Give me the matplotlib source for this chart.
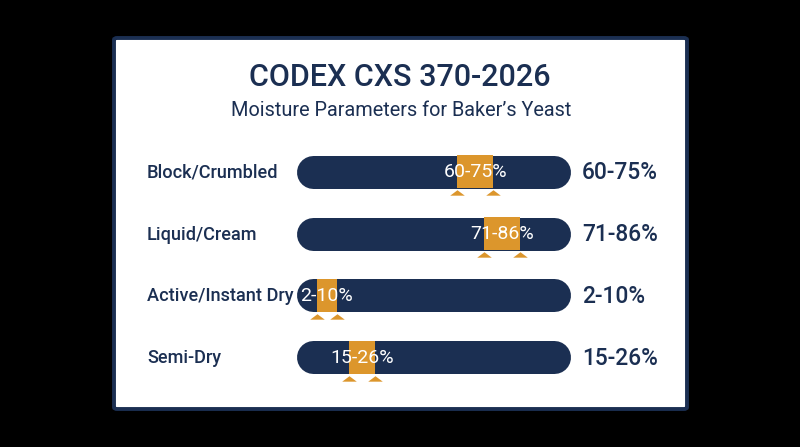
import matplotlib.pyplot as plt
import matplotlib.patches as patches
from matplotlib.path import Path

# data
categories = ["Block/Crumbled", "Liquid/Cream", "Active/Instant Dry", "Semi-Dry"]
range_low = [60, 71, 2, 15]
range_high = [75, 86, 10, 26]
range_labels = ["60-75%", "71-86%", "2-10%", "15-26%"]

title = "CODEX CXS 370-2026"
subtitle = "Moisture Parameters for Baker\u2019s Yeast"

NAVY = "#1b2f52"
ORANGE = "#dc962c"
W, H = 800, 447


def px(x, y):
    """pixel (top-left origin) -> figure coords"""
    return x / W, 1 - y / H


plt.rcParams['font.family'] = ['Roboto', 'DejaVu Sans']

fig = plt.figure(figsize=(8, 4.47), dpi=100, facecolor="black")

# card (behind the axes)
card = patches.FancyBboxPatch(px(114, 409), 573 / W, 371 / H,
                              boxstyle="round,pad=0,rounding_size=0.004",
                              transform=fig.transFigure, facecolor="white",
                              edgecolor=NAVY, linewidth=2.8, zorder=-1)
fig.patches.append(card)

fig.text(*px(400, 78), title, ha="center", va="center", fontsize=22,
         fontweight="medium", color=NAVY)
fig.text(*px(401, 110), subtitle, ha="center", va="center", fontsize=14.3,
         color=NAVY)

# bar axes: data 0..100 spans the straight part of the track
bar_h = 33  # px
left0 = 296 + bar_h / 2
right100 = 570 - bar_h / 2
top, bottom = 141, 388
ax = fig.add_axes([left0 / W, 1 - bottom / H, (right100 - left0) / W, (bottom - top) / H])
ax.set_xlim(0, 100)
ax.set_ylim(len(categories) - 0.5, -0.5)
ax.axis("off")

lw = bar_h * 72 / 100
row_px = (bottom - top) / len(categories)
tri_off = 21.5 / row_px
# flat triangle marker
tri = Path([(-1, -0.3), (1, -0.3), (0, 0.45), (-1, -0.3)],
           [Path.MOVETO, Path.LINETO, Path.LINETO, Path.CLOSEPOLY])

for i, cat in enumerate(categories):
    lo, hi = range_low[i], range_high[i]
    ax.plot([0, 100], [i, i], color=NAVY, lw=lw, solid_capstyle="round",
            clip_on=False, zorder=1)
    ax.barh(i, hi - lo, left=lo, height=bar_h / row_px, color=ORANGE,
            zorder=2)
    ax.text((lo + hi) / 2, i + 0.01, range_labels[i], ha="center", va="center",
            fontsize=14, color="white", zorder=3)
    ax.scatter([lo, hi], [i + tri_off, i + tri_off], marker=tri, s=110,
               color=ORANGE, clip_on=False, zorder=2, linewidths=0)
    yc = 1 - (top + (i + 0.5) * row_px + 1) / H
    fig.text(147 / W, yc, cat, ha="left", va="center", fontsize=13.1,
             fontweight="medium", color=NAVY)
    fig.text(582 / W, yc, range_labels[i], ha="left", va="center",
             fontsize=16.4, fontweight="medium", color=NAVY)

fig.savefig("out.png", dpi=100, facecolor="black")
